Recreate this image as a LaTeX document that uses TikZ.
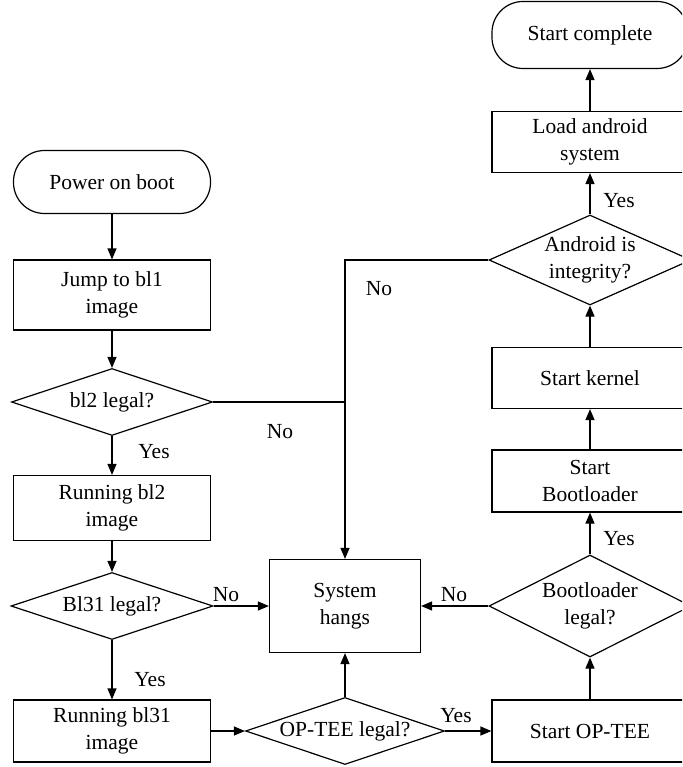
\documentclass[tikz,border=0pt]{standalone}
\usepackage{fontspec}
\setmainfont{Liberation Serif}
\usetikzlibrary{arrows.meta,shapes.geometric}
\begin{document}
\begin{tikzpicture}[x=1pt,y=-1pt,
  line width=1.2pt,
  box/.style={draw, rectangle, inner sep=0pt, align=center, font=\fs},
  term/.style={draw, rectangle, rounded corners=31pt, inner sep=0pt, align=center, font=\fs},
  dia/.style={draw, diamond, inner sep=0pt},
  txt/.style={inner sep=0pt, align=center, font=\fs},
  lbl/.style={inner sep=0pt, font=\fs},
  arr/.style={-{Triangle[length=11pt,width=9pt]}}]
\providecommand{\fs}{}
\renewcommand{\fs}{\fontsize{21.5pt}{26.5pt}\selectfont}
\useasboundingbox (0,0) rectangle (682,767);
\clip (0,0) rectangle (682,767);
% left column
\node[term, minimum width=197pt, minimum height=63pt] (start) at (112,182) {Power on boot};
\node[box, minimum width=197pt, minimum height=70pt] (jump) at (112,295) {Jump to bl1\\image};
\node[dia, minimum width=201pt, minimum height=67pt] (bl2) at (112,402) {};
\node[txt] (bl2t) at (bl2) {bl2 legal?};
\node[box, minimum width=197pt, minimum height=65pt] (runbl2) at (112,508) {Running bl2\\image};
\node[dia, minimum width=202pt, minimum height=67pt] (bl31) at (112,606) {};
\node[txt] (bl31t) at (bl31) {Bl31 legal?};
\node[box, minimum width=197pt, minimum height=62pt] (runbl31) at (112,731) {Running bl31\\image};
% middle
\node[box, minimum width=151pt, minimum height=93pt] (hangs) at (345,606) {System\\hangs};
\node[dia, minimum width=199pt, minimum height=67pt] (optee) at (345,731) {};
\node[txt] (opteet) at (optee) {OP-TEE legal?};
% right column
\node[box, minimum width=196pt, minimum height=62pt] (startopt) at (590,731) {Start OP-TEE};
\node[dia, minimum width=202pt, minimum height=102pt] (bootl) at (590,606) {};
\node[txt] (bootlt) at (bootl) {Bootloader\\legal?};
\node[box, minimum width=196pt, minimum height=62pt] (startbl) at (590,481) {Start\\Bootloader};
\node[box, minimum width=196pt, minimum height=61pt] (kernel) at (590,378) {Start kernel};
\node[dia, minimum width=202pt, minimum height=90pt] (android) at (590,260) {};
\node[txt] (androidt) at (android) {Android is\\integrity?};
\node[box, minimum width=196pt, minimum height=61pt] (load) at (590,142) {Load android\\system};
\node[term, minimum width=196pt, minimum height=67pt] (complete) at (590,35) {Start complete};
% connectors
\draw[arr] (start) -- (jump);
\draw[arr] (jump) -- (bl2);
\draw[arr] (bl2) -- (runbl2);
\draw[arr] (runbl2) -- (bl31);
\draw[arr] (bl31) -- (runbl31);
\draw[arr] (bl31.east) -- (hangs.west);
\draw[arr] (runbl31.east) -- (optee.west);
\draw[arr] (optee.north) -- (hangs.south);
\draw[arr] (optee.east) -- (startopt.west);
\draw[arr] (startopt.north) -- (bootl.south);
\draw[arr] (bootl.west) -- (hangs.east);
\draw[arr] (bootl.north) -- (startbl.south);
\draw[arr] (startbl.north) -- (kernel.south);
\draw[arr] (kernel.north) -- (android.south);
\draw[arr] (android.north) -- (load.south);
\draw[arr] (load.north) -- (complete.south);
\draw[arr] (android.west) -| (hangs.north);
\coordinate (j2) at (bl2.east -| hangs.north);
\draw (bl2.east) -- (j2);
% labels
\node[lbl] (l1) at (154,452) {Yes};
\node[lbl] (l2) at (280,432) {No};
\node[lbl] (l3) at (226,595) {No};
\node[lbl] (l4) at (150,680) {Yes};
\node[lbl] (l5) at (456,716) {Yes};
\node[lbl] (l6) at (454,595) {No};
\node[lbl] (l7) at (619,539) {Yes};
\node[lbl] (l8) at (619,201) {Yes};
\node[lbl] (l9) at (379,289) {No};
\end{tikzpicture}
\end{document}
